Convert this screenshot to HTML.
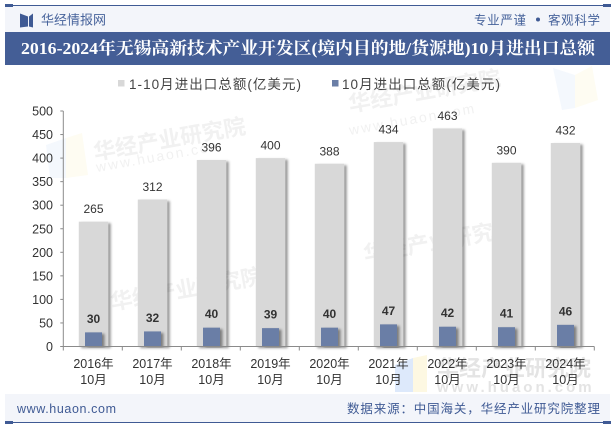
<!DOCTYPE html>
<html lang="zh-CN">
<head>
<meta charset="utf-8">
<title>2016-2024年无锡高新技术产业开发区(境内目的地/货源地)10月进出口总额</title>
<style>
html,body{margin:0;padding:0;background:#fff;}
#frame{display:block;width:615px;height:427px;}
text{font-family:"Liberation Sans","Noto Sans CJK SC",sans-serif;}
.serif{font-family:"Liberation Serif","Noto Serif CJK SC",serif;}
</style>
</head>
<body>
<svg id="frame" xmlns="http://www.w3.org/2000/svg" width="615" height="427" viewBox="0 0 615 427">
  <defs>
    <filter id="bar-shadow" x="-30%" y="-5%" width="170%" height="110%">
      <feDropShadow dx="2.5" dy="1.5" stdDeviation="1.4" flood-color="#000" flood-opacity="0.42"/>
    </filter>
  </defs>

  <rect x="0" y="0" width="615" height="427" fill="#ffffff"/>

  <g>
    <polygon points="46,145 66,138 66,178 50,178" fill="#f4f8fd"/>
    <polygon points="66,138 82,133 88,175 66,178" fill="#fefcf2"/>
    <polygon points="553,68 575,75 575,108 562,110" fill="#f4f8fd"/>
    <polygon points="575,75 592,66 598,100 575,108" fill="#fefcf2"/>
    <polygon points="395,365 413,358 413,392 395,392" fill="#dde9fb"/>
    <polygon points="413,358 427,355 427,392 413,392" fill="#fdf8e2"/>
  </g>
  <g font-weight="700" fill="#f1f1f1">
    <text x="95" y="160" font-size="22" transform="rotate(-10 95 160)">华经产业研究院</text>
    <text x="97" y="172" font-size="14" letter-spacing="2" font-weight="400" transform="rotate(-10 97 172)">www.huaon.com</text>
    <text x="350" y="112" font-size="22" transform="rotate(-10 350 112)">华经产业研究院</text>
    <text x="350" y="135" font-size="14" letter-spacing="2" font-weight="400" transform="rotate(-10 350 135)">www.huaon.com</text>
    <text x="112" y="310" font-size="22" transform="rotate(-10 112 310)">华经产业研究院</text>
    <text x="365" y="262" font-size="22" transform="rotate(-10 365 262)">华经产业研究院</text>
    <text x="437" y="376" font-size="22" fill="#e4e4e4">华经产业研究院</text>
    <text x="437" y="392" font-size="15" letter-spacing="3" fill="#e4e4e4">www.huaon.com</text>
  </g>

  <rect x="5" y="6" width="605" height="26" fill="#f3f5fa"/>
  <rect x="5" y="5" width="605" height="1" fill="#3f5a94"/>
  <rect x="5" y="4" width="8" height="3" fill="#3f5a94"/>
  <rect x="603" y="4" width="8" height="3" fill="#3f5a94"/>
  <polygon points="20,13.500 28,16.500 28,26.500 20,27.500" fill="#3f5a94"/>
  <polygon points="33,13.500 29,16.500 29,26.500 33,27.500" fill="#3f5a94"/>
  <text x="41" y="24.500" font-size="13" fill="#47639b" textLength="65">华经情报网</text>
  <text x="474" y="24.500" font-size="12.500" fill="#47639b" textLength="52">专业严谨</text>
  <circle cx="538" cy="19.500" r="2" fill="#3f5a94"/>
  <text x="548" y="24.500" font-size="12.500" fill="#47639b" textLength="52">客观科学</text>

  <rect x="5" y="32" width="605" height="33" fill="#445e96"/>
  <text class="serif" x="21" y="54" font-size="17" font-weight="700" fill="#ffffff" textLength="574" lengthAdjust="spacingAndGlyphs">2016-2024年无锡高新技术产业开发区(境内目的地/货源地)10月进出口总额</text>

  <g>
    <g>
      <rect x="118" y="80" width="6.500" height="6.500" fill="#d8d8d8"/>
      <text x="129" y="89" font-size="13.500" fill="#444" textLength="172">1-10月进出口总额(亿美元)</text>
    </g>
    <g>
      <rect x="332" y="80" width="6.500" height="6.500" fill="#6a7ea6"/>
      <text x="342" y="89" font-size="13.500" fill="#444" textLength="158">10月进出口总额(亿美元)</text>
    </g>
  </g>

  <g id="plot"></g>

  <rect x="5" y="394" width="605" height="28" fill="#f3f5fa"/>
  <rect x="5" y="422" width="605" height="1" fill="#3f5a94"/>
  <rect x="5" y="421" width="8" height="3" fill="#3f5a94"/>
  <rect x="603" y="421" width="8" height="3" fill="#3f5a94"/>
  <text x="17" y="413" font-size="12.500" fill="#3f5a94" textLength="99">www.huaon.com</text>
  <text x="347" y="413" font-size="12.500" fill="#3f5a94" textLength="253">数据来源：中国海关，华经产业研究院整理</text>
</svg>

<script>
const categories = ['2016年', '2017年', '2018年', '2019年', '2020年', '2021年', '2022年', '2023年', '2024年'];
const categorySub = ['10月', '10月', '10月', '10月', '10月', '10月', '10月', '10月', '10月'];
const totalValues = [265, 312, 396, 400, 388, 434, 463, 390, 432];
const octoberValues = [30, 32, 40, 39, 40, 47, 42, 41, 46];
const yTicks = [0, 50, 100, 150, 200, 250, 300, 350, 400, 450, 500];

const NS = 'http://www.w3.org/2000/svg';
const plot = document.getElementById('plot');
const left = 63.3, right = 594.3, bottom = 346.5, top_ = 111, yMax = 500;
const band = (right - left) / categories.length;
function xBand(i) { return left + band * i; }
function xCenter(i) { return xBand(i) + band / 2 + 0.7; }
function yScale(v) { return bottom - (v / yMax) * (bottom - top_); }
function make(tag, attrs, text) {
  const el = document.createElementNS(NS, tag);
  Object.keys(attrs).forEach(function (k) { el.setAttribute(k, attrs[k]); });
  if (text !== undefined) el.textContent = text;
  plot.appendChild(el);
  return el;
}

categories.forEach(function (c, i) {
  const cx = xCenter(i);
  const t = yScale(totalValues[i]);
  const bar = make('rect', { x: cx - 14.7, y: t, width: 29.4, height: bottom - t, fill: '#d8d8d8', filter: 'url(#bar-shadow)' });
  
  
});

categories.forEach(function (c, i) {
  const cx = xCenter(i);
  const t = yScale(octoberValues[i]);
  const bar = make('rect', { x: cx - 8.5, y: t, width: 17, height: bottom - t, fill: '#6a7ea6', filter: 'url(#bar-shadow)' });
  
  
});

const yAxis = make('line', { x1: left, x2: left, y1: top_, y2: bottom, stroke: '#8a8a8a', 'stroke-width': 1 });


const xAxis = make('line', { x1: left - 3, x2: right, y1: bottom, y2: bottom, stroke: '#8a8a8a', 'stroke-width': 1 });



yTicks.forEach(function (v) {
  const y = yScale(v);
  const tick = make('line', { x1: left - 3, x2: left, y1: y, y2: y, stroke: '#8a8a8a', 'stroke-width': 1 });
  
  
  const label = make('text', { x: 53, y: y + 4.5, 'font-size': 12.5, fill: '#333', 'text-anchor': 'end' }, String(v));
  
  
});

for (let i = 0; i <= categories.length; i++) {
  const x = xBand(i);
  const tick = make('line', { x1: x, x2: x, y1: bottom, y2: bottom + 4, stroke: '#8a8a8a', 'stroke-width': 1 });
  
  
}

categories.forEach(function (c, i) {
  const cx = xCenter(i);
  const year = make('text', { x: cx, y: 368, 'font-size': 12.5, fill: '#333', 'text-anchor': 'middle' }, c);
  
  
  const month = make('text', { x: cx, y: 384, 'font-size': 12.5, fill: '#333', 'text-anchor': 'middle' }, categorySub[i]);
  
  

  const totalLabel = make('text', { x: cx, y: yScale(totalValues[i]) - 8.5, 'font-size': 12, fill: '#333', 'text-anchor': 'middle' }, String(totalValues[i]));
  
  
  const octLabel = make('text', { x: cx, y: yScale(octoberValues[i]) - 9.5, 'font-size': 12, 'font-weight': 700, fill: '#333', 'text-anchor': 'middle' }, String(octoberValues[i]));
  
  
});
</script>
</body>
</html>
